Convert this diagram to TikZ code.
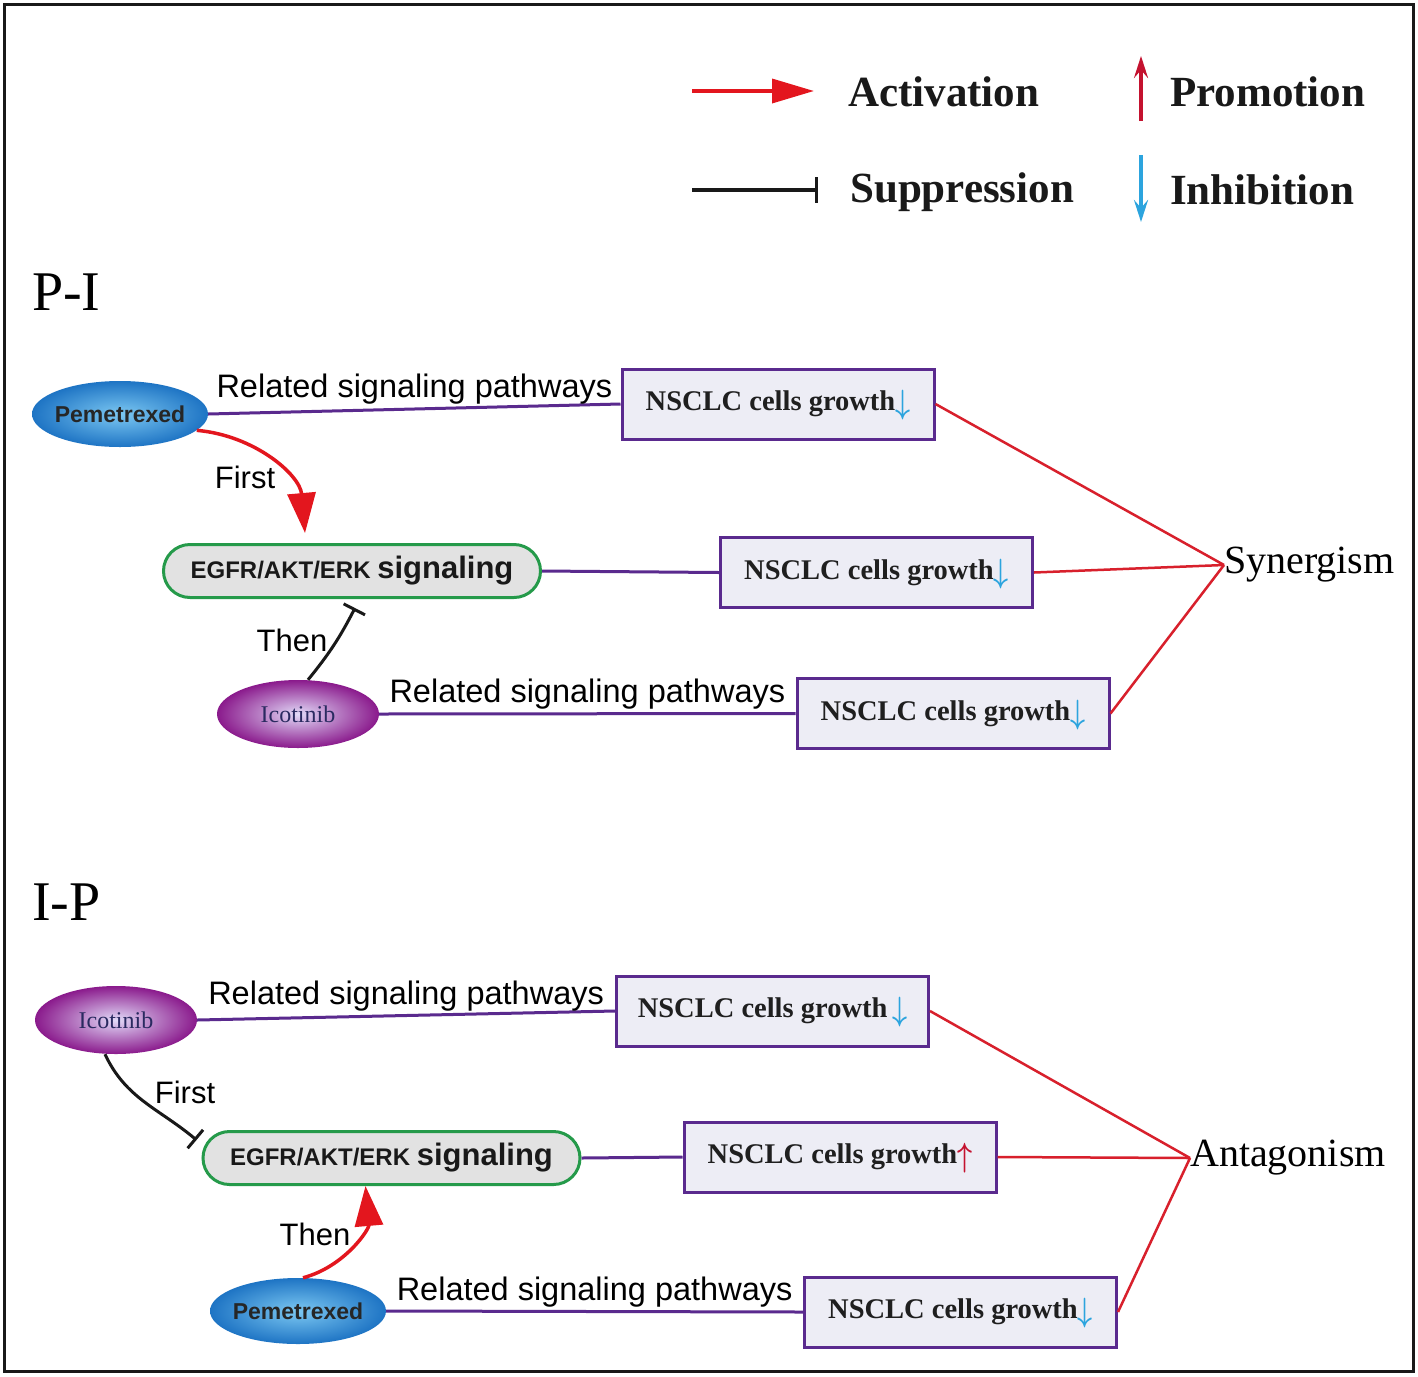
\documentclass[tikz,border=0pt]{standalone}
\usepackage{fontspec}
\setmainfont{Liberation Serif}
\newfontfamily\arialf{Liberation Sans}
\usetikzlibrary{arrows.meta,shapes.geometric,shapes.misc}
\definecolor{actred}{HTML}{E3161E}
\definecolor{synred}{HTML}{D8202C}
\definecolor{promred}{HTML}{C4122F}
\definecolor{inhblue}{HTML}{2CA4DE}
\definecolor{purp}{HTML}{5A2A8E}
\definecolor{boxfill}{HTML}{EDEDF5}
\definecolor{egfrgreen}{HTML}{259A4A}
\definecolor{egfrfill}{HTML}{E2E2E2}
\definecolor{pemout}{HTML}{1E74C4}
\definecolor{pemin}{HTML}{7CC8F2}
\definecolor{icoout}{HTML}{8A1A8C}
\definecolor{icoin}{HTML}{E2DAF8}
\definecolor{icotext}{HTML}{2A2A60}
\newcommand\grdown{\textcolor{inhblue}{\smash{\raisebox{-3pt}{\scalebox{1.05}[1.35]{\boldmath$\downarrow$}}}}}
\newcommand\grup{\textcolor{promred}{\smash{\raisebox{-3pt}{\scalebox{1.05}[1.35]{\boldmath$\uparrow$}}}}}
\newcommand\egfrtext{{\fontsize{24}{26}\selectfont EGFR/AKT/ERK\ }{\fontsize{31}{33}\selectfont signaling}}
\tikzset{
 resbox/.style={draw=purp, line width=3pt, fill=boxfill, minimum width=312pt, minimum height=70pt, inner sep=0pt, font=\fontsize{28.5}{30}\selectfont\bfseries, text=black!88},
 pemnode/.style={ellipse, shading=radial, inner color=pemin, outer color=pemout, minimum width=176pt, minimum height=66pt, inner xsep=-5pt, inner ysep=0pt, font=\arialf\bfseries\fontsize{23}{25}\selectfont, text=black!85},
 iconode/.style={ellipse, shading=radial, inner color=icoin, outer color=icoout, minimum width=162pt, minimum height=68pt, inner sep=0pt, font=\fontsize{24}{26}\selectfont, text=icotext},
 egfrnode/.style={rounded rectangle, draw=egfrgreen, line width=3pt, fill=egfrfill, minimum width=377pt, minimum height=53pt, inner sep=0pt, font=\arialf\bfseries, text=black!90},
 pathline/.style={draw=purp, line width=3pt},
 relline/.style={draw=synred, line width=2.5pt},
 pathlabel/.style={font=\arialf\fontsize{32.5}{34}\selectfont, above, inner sep=3pt, text=black},
 steplabel/.style={font=\arialf\fontsize{31}{33}\selectfont, text=black},
 actarrow/.style={draw=actred, line width=3.5pt, -{Triangle[length=40pt,width=28pt]}},
 supparrow/.style={draw=black!90, line width=3pt, -{Bar[width=24pt]}},
 legtext/.style={font=\fontsize{43}{45}\selectfont\bfseries, anchor=base west, inner sep=0pt, text=black!90},
 sectlabel/.style={font=\fontsize{56}{58}\selectfont, anchor=base west, inner sep=0pt},
 outcome/.style={font=\fontsize{40}{42}\selectfont, anchor=west, inner sep=0pt},
 legarrow/.style={line width=3.5pt, -{Stealth[length=22pt,width=14pt,inset=8pt]}},
}
\begin{document}
\begin{tikzpicture}[x=1pt, y=-1pt]
\useasboundingbox (0,0) rectangle (1418,1376);
\fill[white] (0,0) rectangle (1418,1376);
\draw[line width=3pt, black!90] (4,4) rectangle (1413,1371);

% ---------- legend ----------
\coordinate (actA) at (692,91);
\coordinate (actB) at (814,91);
\draw[draw=actred, line width=3.5pt, -{Triangle[length=42pt,width=24pt]}] (actA) -- (actB);
\node[legtext] (lact) at (848,106) {Activation};
\coordinate (supA) at (692,190);
\coordinate (supB) at (818,190);
\draw[draw=black!90, line width=3.5pt, -{Bar[width=26pt]}] (supA) -- (supB);
\node[legtext] (lsup) at (850,202) {Suppression};
\coordinate (proA) at (1141,121);
\coordinate (proB) at (1141,56);
\draw[draw=promred, legarrow] (proA) -- (proB);
\node[legtext] (lpro) at (1170,106) {Promotion};
\coordinate (inhA) at (1141,155);
\coordinate (inhB) at (1141,222);
\draw[draw=inhblue, legarrow] (inhA) -- (inhB);
\node[legtext] (linh) at (1170,204) {Inhibition};

% ---------- P-I ----------
\node[sectlabel] (pi) at (32,310) {P-I};
\node[pemnode] (pem1) at (120,414) {Pemetrexed};
\node[egfrnode] (egfr1) at (352,571) {\egfrtext};
\node[iconode] (ico1) at (298,714) {Icotinib};
\node[resbox] (box1) at (778,404) {NSCLC cells growth\grdown};
\node[resbox] (box2) at (876.5,572.5) {NSCLC cells growth\grdown};
\node[resbox] (box3) at (953,713.5) {NSCLC cells growth\grdown};
\node[outcome] (syn) at (1224,565) {Synergism};

\draw[pathline] (pem1.east) -- node[pathlabel] {Related signaling pathways} (box1.west);
\draw[pathline] (egfr1.east) -- (box2.west);
\draw[pathline] (ico1.east) -- node[pathlabel] {Related signaling pathways} (box3.west);
\draw[relline] (box1.east) -- (syn.west);
\draw[relline] (box2.east) -- (syn.west);
\draw[relline] (box3.east) -- (syn.west);

\draw[actarrow] (pem1.-12) to[out=-5,in=95] ([xshift=-47pt,yshift=10pt]egfr1.north);
\node[steplabel] (first1) at (245,477) {First};
\draw[supparrow] ([xshift=10pt]ico1.north) to[bend right=6] ([xshift=3pt,yshift=-9pt]egfr1.south);
\node[steplabel] (then1) at (292,640) {Then};

% ---------- I-P ----------
\node[sectlabel] (ip) at (32,920) {I-P};
\node[iconode] (ico2) at (116,1020) {Icotinib};
\node[egfrnode] (egfr2) at (391.5,1158) {\egfrtext};
\node[pemnode] (pem2) at (298,1311) {Pemetrexed};
\node[resbox] (box4) at (772.5,1011) {NSCLC cells growth\,\grdown};
\node[resbox] (box5) at (840,1157) {NSCLC cells growth\grup};
\node[resbox] (box6) at (960.5,1312) {NSCLC cells growth\grdown};
\node[outcome] (ant) at (1190,1158) {Antagonism};

\draw[pathline] (ico2.east) -- node[pathlabel] {Related signaling pathways} (box4.west);
\draw[pathline] (egfr2.east) -- (box5.west);
\draw[pathline] (pem2.east) -- node[pathlabel] {Related signaling pathways} (box6.west);
\draw[relline] (box4.east) -- (ant.west);
\draw[relline] (box5.east) -- (ant.west);
\draw[relline] (box6.east) -- (ant.west);

\draw[supparrow] ([xshift=-11pt]ico2.south) to[out=-65,in=140] ([xshift=-5pt,yshift=18pt]egfr2.west);
\node[steplabel] (first2) at (185,1092) {First};
\draw[actarrow] ([xshift=5pt]pem2.north) to[out=15,in=-85] ([xshift=-26pt]egfr2.south);
\node[steplabel] (then2) at (315,1234) {Then};
\end{tikzpicture}
\end{document}
